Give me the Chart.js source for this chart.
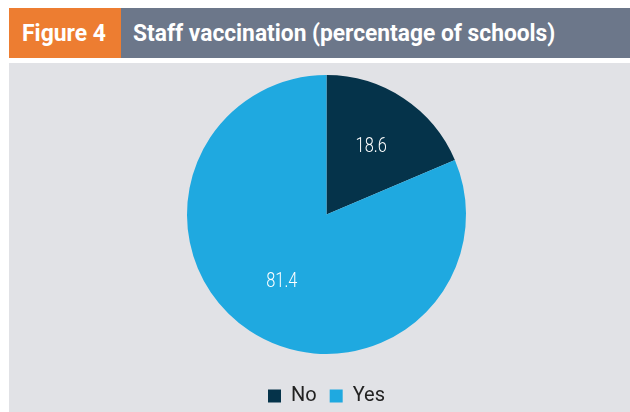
<!DOCTYPE html>
<html>
<head>
<meta charset="utf-8">
<script src="https://cdn.jsdelivr.net/npm/chart.js@4.4.1/dist/chart.umd.min.js"></script>
<style>
  html, body { margin: 0; padding: 0; background: #ffffff; }
  body { width: 630px; height: 412px; position: relative; overflow: hidden; font-family: Roboto, sans-serif; }
  .fig-num { position: absolute; left: 9px; top: 8px; width: 112px; height: 50px; background: #ED7D31; }
  .fig-title { position: absolute; left: 121px; top: 8px; right: 0; height: 50px; background: #6C778A; }
  .fig-num span, .fig-title span {
      position: absolute; top: 0; white-space: nowrap; color: #fff; font-weight: bold;
      font-size: 24px; line-height: 50px; transform-origin: 0 50%;
  }
  .fig-num span { left: 13px; }
  .fig-title span { left: 12px; }
  .panel { position: absolute; left: 9px; top: 63px; right: 0; bottom: 0; background: #E1E2E6; overflow: hidden; }
  canvas { display: block; }
</style>
</head>
<body>
<div class="fig-num"><span data-w="84">Figure 4</span></div>
<div class="fig-title"><span data-w="422">Staff vaccination (percentage of schools)</span></div>
<div class="panel"><canvas id="vacChart" width="621" height="353"></canvas></div>
<script>
const categories = ['No', 'Yes'];
const shares = [18.6, 81.4];
const sliceColors = ['#05334A', '#1FA9E0'];

// squeeze the heading text into its condensed width
document.querySelectorAll('span[data-w]').forEach(s => {
    s.style.transform = 'scaleX(' + (s.dataset.w / s.offsetWidth) + ')';
});

// write each value inside its slice, narrowed a bit
const sliceLabels = {
    id: 'sliceLabels',
    afterDatasetsDraw(chart) {
        const ctx = chart.ctx;
        const meta = chart.getDatasetMeta(0);
        meta.data.forEach((arc, i) => {
            const p = arc.getProps(['x', 'y', 'startAngle', 'endAngle', 'outerRadius'], true);
            const mid = (p.startAngle + p.endAngle) / 2;
            const r = p.outerRadius * 0.58;
            ctx.save();
            ctx.translate(p.x + Math.cos(mid) * r, p.y + Math.sin(mid) * r);
            ctx.scale(0.78, 1);
            ctx.fillStyle = '#ffffff';
            ctx.font = '300 21px Roboto, sans-serif';
            ctx.textAlign = 'center';
            ctx.textBaseline = 'middle';
            ctx.fillText(shares[i].toFixed(1), 0, 0);
            ctx.restore();
        });
    }
};

new Chart(document.getElementById('vacChart'), {
    type: 'pie',
    data: {
        labels: categories,
        datasets: [{
            data: shares,
            backgroundColor: sliceColors,
            borderWidth: 0
        }]
    },
    options: {
        responsive: false,
        animation: false,
        layout: { padding: { top: 12, bottom: 0, left: 14 } },
        plugins: {
            legend: {
                position: 'bottom',
                // blank title just adds room above the legend row
                title: { display: true, text: ' ', font: { size: 10 }, padding: { top: 6, bottom: 1 } },
                labels: {
                    boxWidth: 13,
                    boxHeight: 13,
                    padding: 13,
                    color: '#222222',
                    font: { family: 'Roboto, sans-serif', size: 20 }
                }
            },
            tooltip: { enabled: false }
        }
    },
    plugins: [sliceLabels]
});
</script>
</body>
</html>
